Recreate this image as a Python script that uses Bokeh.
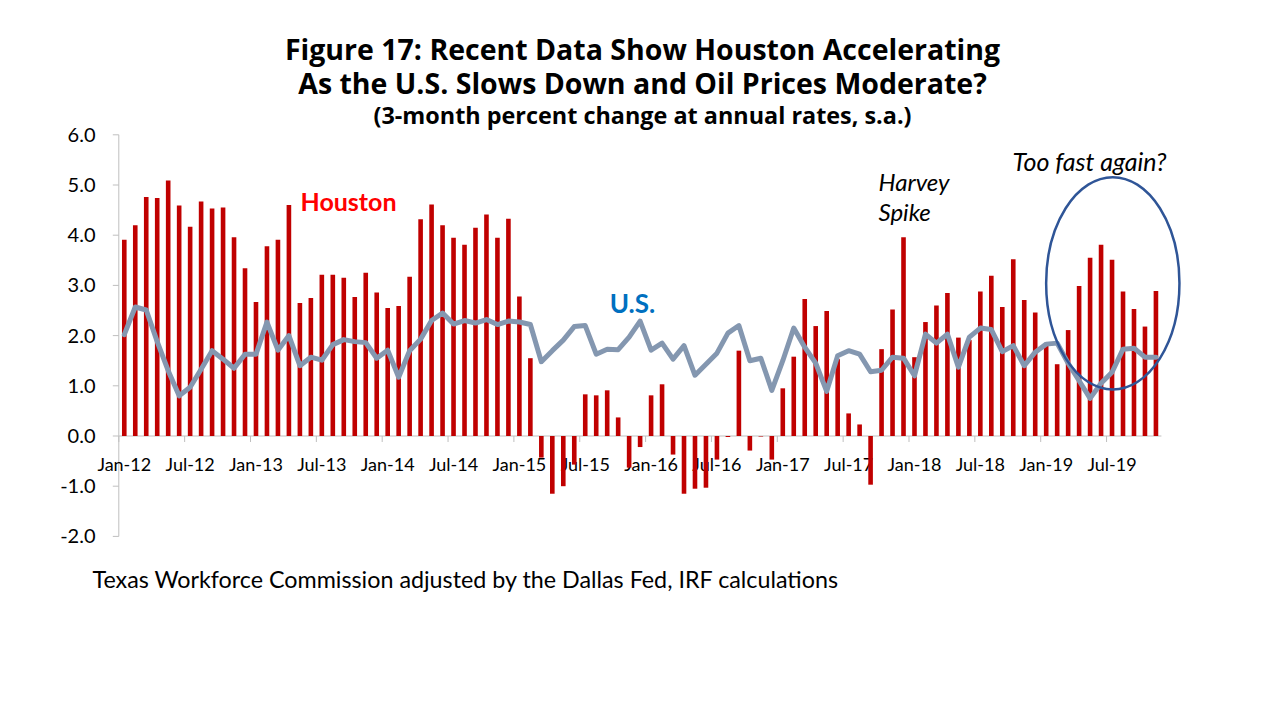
from bokeh.plotting import figure
from bokeh.models import Range1d, ColumnDataSource
from bokeh.embed import file_html
from bokeh.resources import INLINE
from bokeh.core.properties import value

# ---------------- data ----------------
month_names = ["Jan", "Feb", "Mar", "Apr", "May", "Jun",
               "Jul", "Aug", "Sep", "Oct", "Nov", "Dec"]
years = ["12", "13", "14", "15", "16", "17", "18", "19"]
months = [f"{m}-{y}" for y in years for m in month_names][:95]  # Jan-12 .. Nov-19

houston = [3.91, 4.20, 4.76, 4.74, 5.09, 4.59, 4.17, 4.67, 4.53, 4.55, 3.96, 3.34,
           2.67, 3.78, 3.91, 4.60, 2.65, 2.75, 3.21, 3.21, 3.15, 2.77, 3.25, 2.86,
           2.55, 2.59, 3.17, 4.32, 4.61, 4.20, 3.95, 3.81, 4.15, 4.41, 3.95, 4.33,
           2.78, 1.55, -0.43, -1.15, -1.00, -0.57, 0.83, 0.81, 0.91, 0.37, -0.63, -0.22,
           0.81, 1.03, -0.37, -1.15, -1.05, -1.03, -0.47, -0.02, 1.70, -0.29, -0.01, -0.47,
           0.95, 1.58, 2.73, 2.19, 2.49, 1.53, 0.45, 0.23, -0.97, 1.73, 2.52, 3.96,
           1.57, 2.27, 2.60, 2.85, 1.96, 1.91, 2.88, 3.19, 2.57, 3.52, 2.71, 2.46,
           1.83, 1.43, 2.11, 2.99, 3.55, 3.81, 3.51, 2.88, 2.53, 2.18, 2.89]

us = [2.02, 2.57, 2.51, 1.88, 1.30, 0.80, 0.97, 1.33, 1.70, 1.53, 1.35, 1.63,
      1.63, 2.27, 1.71, 2.00, 1.40, 1.57, 1.51, 1.82, 1.92, 1.88, 1.86, 1.55,
      1.71, 1.17, 1.70, 1.93, 2.30, 2.45, 2.23, 2.30, 2.25, 2.32, 2.22, 2.29,
      2.27, 2.22, 1.48, 1.70, 1.91, 2.18, 2.20, 1.63, 1.73, 1.72, 1.97, 2.29,
      1.71, 1.85, 1.53, 1.80, 1.21, 1.43, 1.65, 2.05, 2.20, 1.50, 1.55, 0.91,
      1.50, 2.15, 1.77, 1.45, 0.89, 1.60, 1.70, 1.63, 1.28, 1.31, 1.57, 1.55,
      1.20, 2.03, 1.85, 2.03, 1.37, 1.97, 2.15, 2.12, 1.68, 1.80, 1.40, 1.67,
      1.83, 1.85, 1.45, 1.10, 0.75, 1.05, 1.27, 1.73, 1.75, 1.57, 1.57]

tick_labels = ["Jan-12", "Jul-12", "Jan-13", "Jul-13", "Jan-14", "Jul-14",
               "Jan-15", "Jul-15", "Jan-16", "Jul-16", "Jan-17", "Jul-17",
               "Jan-18", "Jul-18", "Jan-19", "Jul-19"]

y_ticks = [-2, -1, 0, 1, 2, 3, 4, 5, 6]
y_tick_labels = ["-2.0", "-1.0", "0.0", "1.0", "2.0", "3.0", "4.0", "5.0", "6.0"]

title_lines = ["Figure 17: Recent Data Show Houston Accelerating",
               "As the U.S. Slows Down and Oil Prices Moderate?"]
subtitle = "(3-month percent change at annual rates, s.a.)"
source_note = "Texas Workforce Commission adjusted by the Dallas Fed, IRF calculations"

# ---------------- layout (page pixels -> data) ----------------
W, H = 1272, 711
X0, CW = 118.3, 10.975          # left edge of plot area, px per month
Y0, UH = 435.5, 50.2            # zero line, px per unit


def px(X):
    return -0.5 + (X - X0) / CW


def py(Y):
    return (Y0 - Y) / UH


n = len(months)
idx = list(range(n))
tick_idx = [months.index(t) for t in tick_labels]

FONT = "Lato"
TFONT = "Open Sans"
AXIS_COLOR = "#BFBFBF"

p = figure(width=W, height=H,
           x_range=Range1d(px(0), px(W)), y_range=Range1d(py(H), py(0)),
           output_backend="svg", toolbar_location=None,
           x_axis_location=None, y_axis_location=None,
           min_border=0)
p.grid.visible = False
p.outline_line_color = None
p.background_fill_color = "white"
p.border_fill_color = "white"

# ---- y axis (manual) ----
p.segment(x0=[-0.5], y0=[min(y_ticks)], x1=[-0.5], y1=[max(y_ticks)],
          line_color=AXIS_COLOR, line_width=1)
p.segment(x0=[-0.5] * len(y_ticks), y0=y_ticks,
          x1=[px(X0 - 6)] * len(y_ticks), y1=y_ticks,
          line_color=AXIS_COLOR, line_width=1)
p.text(x=[px(95)] * len(y_ticks), y=y_ticks, text=y_tick_labels,
       text_align="right", text_baseline="middle",
       text_font=value(FONT), text_font_size="20px", text_color="#000000")

# ---- x axis at zero (manual) ----
p.segment(x0=[-0.5], y0=[0], x1=[n - 0.5], y1=[0], line_color=AXIS_COLOR, line_width=1)
bound = [i - 0.5 for i in tick_idx]
p.segment(x0=bound, y0=[0] * len(bound), x1=bound, y1=[py(Y0 + 6)] * len(bound),
          line_color=AXIS_COLOR, line_width=1)
p.text(x=tick_idx, y=[py(463)] * len(tick_idx), text=tick_labels,
       text_align="center", text_baseline="middle",
       text_font=value(FONT), text_font_size="18px", text_color="#000000")

# ---- bars and line ----
src = ColumnDataSource(dict(x=idx, houston=houston, us=us, month=months))
p.vbar(x="x", top="houston", bottom=0, width=0.42, source=src,
       fill_color="#C00000", line_color=None)
p.line(x="x", y="us", source=src, line_color="#8497B0", line_width=5,
       line_join="round", line_cap="round")

# ---- ellipse highlight ----
p.ellipse(x=[px(1112.3)], y=[py(282.8)], width=133.3 / CW, height=212.3 / UH,
          fill_color=None, line_color="#2F5597", line_width=2.5)


# ---- texts ----
def txt(X, Y, text, size, color="#000000", style="normal", align="center", font=FONT):
    p.text(x=[px(X)], y=[py(Y)], text=[text], text_font=value(font),
           text_font_size=size, text_color=color, text_font_style=style,
           text_align=align, text_baseline="middle")


txt(348, 200, "Houston", "25px", color="#FF0000", style="bold")
txt(632, 302, "U.S.", "26px", color="#0070C0", style="bold")
txt(878, 181, "Harvey", "24px", style="italic", align="left")
txt(878, 211, "Spike", "24px", style="italic", align="left")
txt(1089, 160, "Too fast again?", "25px", style="italic")

txt(642, 48, title_lines[0], "28.5px", style="bold", font=TFONT)
txt(642, 82, title_lines[1], "28.5px", style="bold", font=TFONT)
txt(642, 114, subtitle, "23.4px", style="bold", font=TFONT)

txt(92, 578, source_note, "23.3px", align="left")

open("out.html", "w").write(file_html(p, INLINE))
